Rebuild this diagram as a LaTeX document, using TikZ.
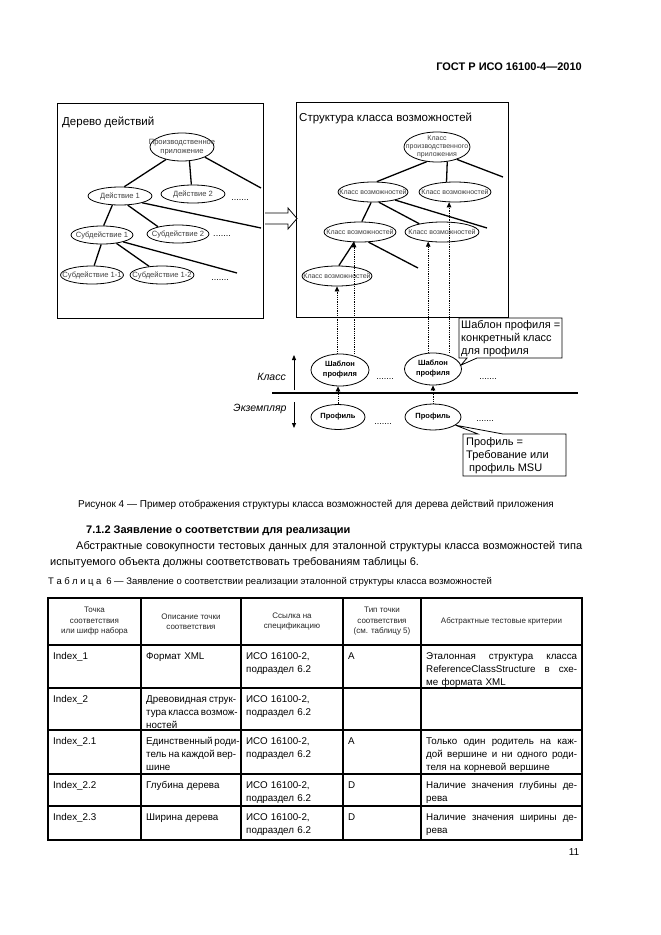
\documentclass[tikz,border=0pt]{standalone}
\usepackage{fontspec}
\setmainfont{Liberation Sans}
\usetikzlibrary{shapes.geometric, arrows.meta, positioning, calc}
\newcommand{\fsz}[2]{\fontsize{#1pt}{#2pt}\selectfont}
\newcommand{\jl}[2]{\makebox[#1pt][s]{\spaceskip=0pt\xspaceskip=0pt #2}}

\begin{document}
\begin{tikzpicture}[x=1pt, y=-1pt,
    treenode/.style={ellipse, draw, line width=0.8pt, inner xsep=-14pt, inner ysep=-4pt, align=center, text=black!75, font=\fsz{7.6}{8.6}},
    clsnode/.style={treenode, font=\fsz{7}{8}},
    profnode/.style={treenode, text=black, font=\bfseries\fsz{7.5}{10}},
    branch/.style={line width=1.3pt},
    dotlink/.style={densely dotted, line width=0.8pt, -{Triangle[length=5pt, width=4.5pt]}},
    levelarrow/.style={line width=0.8pt, -{Triangle[length=5pt, width=4pt]}},
    dotrow/.style={inner sep=0pt, font=\fsz{9}{9}},
    boxframe/.style={line width=0.8pt},
    boxtitle/.style={anchor=west, inner sep=0pt, font=\fsz{11.5}{13}},
    levellabel/.style={inner sep=0pt, font=\itshape\fsz{10.5}{12}},
    notetext/.style={anchor=north west, inner sep=0pt, align=left, font=\fsz{11}{13}},
    notebox/.style={draw, fill=white, line width=0.8pt},
    cell/.style={anchor=base west, inner sep=0pt, text width=160pt, align=left, font=\fsz{9.8}{13}},
    headcell/.style={inner sep=0pt, align=center, text=black!85, font=\fsz{8}{10.5}},
    tabrule/.style={line width=1.1pt}]
    \useasboundingbox[fill=white] (0,0) rectangle (661,935);

    \node[anchor=east, inner sep=0pt, font=\bfseries\fsz{11}{13}] (docid) at (582,67) {ГОСТ Р ИСО 16100-4—2010};

    % action tree
    \draw[boxframe] (57,103) rectangle (263,318);
    \node[boxtitle] (treetitle) at (62,122) {Дерево действий};
    \node[treenode, minimum width=64, minimum height=28] (app) at (182,147) {Производственное\\приложение};
    \node[treenode, minimum width=64, minimum height=18] (act1) at (120,196) {Действие 1};
    \node[treenode, minimum width=64, minimum height=18] (act2) at (193,194) {Действие 2};
    \node[treenode, minimum width=62, minimum height=18] (sub1) at (102,235) {Субдействие 1};
    \node[treenode, minimum width=62, minimum height=18] (sub2) at (178,234) {Субдействие 2};
    \node[treenode, minimum width=63, minimum height=18] (sub11) at (92,275) {Субдействие 1-1};
    \node[treenode, minimum width=64, minimum height=18] (sub12) at (162,275) {Субдействие 1-2};
    \node[dotrow] (actdots) at (240,200) {.......};
    \node[dotrow] (subdots) at (222,236) {.......};
    \node[dotrow] (sub1dots) at (220,280) {.......};
    \coordinate (appmore) at (261,188);
    \coordinate (act1more) at (261,228);
    \coordinate (sub1more) at (237,273);
    \draw[branch] (app.218) -- (act1.65);
    \draw[branch] (app.-62) -- (act2.100);
    \draw[branch] (app.-24) -- (appmore);
    \draw[branch] (act1.-130) -- (sub1.80);
    \draw[branch] (act1.-50) -- (sub2.160);
    \draw[branch] (act1.-17) -- (act1more);
    \draw[branch] (sub1.-95) -- (sub11.77);
    \draw[branch] (sub1.-30) -- (sub12.146);
    \draw[branch] (sub1.-18) -- (sub1more);

    \draw[line width=0.8pt, fill=white] (265,213) -- (288,213) -- (288,208) -- (297,218.5) -- (288,229) -- (288,224) -- (265,224);

    % class structure
    \draw[boxframe] (296,102) rectangle (508,317);
    \node[boxtitle] (clstitle) at (299,118) {Структура класса возможностей};
    \node[clsnode, minimum width=66, minimum height=30] (appcls) at (437,147) {Класс\\производственного\\приложения};
    \node[clsnode, minimum width=70, minimum height=20] (cls1) at (373,192) {Класс возможностей};
    \node[clsnode, minimum width=72, minimum height=20] (cls2) at (455,192) {Класс возможностей};
    \node[clsnode, minimum width=72, minimum height=20] (cls3) at (360,232) {Класс возможностей};
    \node[clsnode, minimum width=74, minimum height=20] (cls4) at (442,232) {Класс возможностей};
    \node[clsnode, minimum width=70, minimum height=20] (cls5) at (337,276) {Класс возможностей};
    \coordinate (appclsmore) at (503,177);
    \coordinate (cls1more) at (487,228);
    \coordinate (cls3more) at (418,268);
    \draw[branch] (appcls.235) -- (cls1.70);
    \draw[branch] (appcls.-55) -- (cls2.130);
    \draw[branch] (appcls.-32) -- (appclsmore);
    \draw[branch] (cls1.-100) -- (cls3.80);
    \draw[branch] (cls1.-60) -- (cls4.160);
    \draw[branch] (cls1.-20) -- (cls1more);
    \draw[branch] (cls3.-120) -- (cls5.80);
    \draw[branch] (cls3.-50) -- (cls3more);

    % templates and profiles
    \node[profnode, minimum width=58, minimum height=32] (tmpl1) at (340,370) {Шаблон\\профиля};
    \node[profnode, minimum width=57, minimum height=32] (tmpl2) at (433,369) {Шаблон\\профиля};
    \node[profnode, minimum width=54, minimum height=25] (prof1) at (338,417) {Профиль};
    \node[profnode, minimum width=56, minimum height=26] (prof2) at (433,417) {Профиль};
    \node[dotrow] (tmpldots1) at (385,379) {.......};
    \node[dotrow] (tmpldots2) at (488,379) {.......};
    \node[dotrow] (profdots1) at (383,424) {.......};
    \node[dotrow] (profdots2) at (485,421) {.......};
    \draw[dotlink] (tmpl1.north -| cls5.south) -- (cls5.south);
    \draw[dotlink] (tmpl1.north -| cls3.-120) -- (cls3.-120);
    \draw[dotlink] (tmpl2.north -| cls4.-145) -- (cls4.-145);
    \draw[dotlink] (tmpl2.north -| cls2.-120) -- (cls2.-120);
    \draw[dotlink] (prof1.north) -- (prof1.north |- tmpl1.south);
    \draw[dotlink] (prof2.north) -- (prof2.north |- tmpl2.south);

    \coordinate (divleft) at (272,393);
    \coordinate (divright) at (578,393);
    \draw[line width=1.3pt] (divleft) -- (divright);
    \coordinate (classtop) at (294,355);
    \coordinate (classbot) at (294,390);
    \coordinate (insttop) at (294,402);
    \coordinate (instbot) at (294,428);
    \draw[levelarrow] (classbot) -- (classtop);
    \draw[levelarrow] (insttop) -- (instbot);
    \node[levellabel, anchor=east] (classlbl) at (286,377) {Класс};
    \node[levellabel] (instlbl) at (260,409) {Экземпляр};

    \draw[notebox] (459,318) -- (562,318) -- (562,358) -- (477,358) -- (tmpl2.8) -- (467,358) -- (459,358) -- cycle;
    \node[notetext] (tmplnote) at (461,320) {Шаблон профиля =\\конкретный класс\\для профиля};
    \draw[notebox] (463,434) -- (478,434) -- (prof2.-20) -- (503,434) -- (566,434) -- (566,476) -- (463,476) -- cycle;
    \node[notetext] (profnote) at (466,437) {Профиль =\\Требование или\\\hspace{3pt}профиль MSU};

    % text
    \node[inner sep=0pt, font=\fsz{10}{12}] (figcap) at (316,505) {Рисунок 4 — Пример отображения структуры класса возможностей для дерева действий приложения};
    \node[anchor=west, inner sep=0pt, font=\bfseries\fsz{11}{13}] (secthead) at (86,531) {7.1.2 Заявление о соответствии для реализации};
    \node[anchor=west, inner sep=0pt, font=\fsz{11}{13}] (para1) at (76,547) {\jl{506}{Абстрактные совокупности тестовых данных для эталонной структуры класса возможностей типа}};
    \node[anchor=west, inner sep=0pt, font=\fsz{11}{13}] (para2) at (50,563) {испытуемого объекта должны соответствовать требованиям таблицы 6.};
    \node[anchor=west, inner sep=0pt, font=\fsz{9.5}{11}] (tabcap) at (48,582) {Т\hspace{2.5pt}а\hspace{2.5pt}б\hspace{2.5pt}л\hspace{2.5pt}и\hspace{2.5pt}ц\hspace{2.5pt}а\hspace{5pt}6 — Заявление о соответствии реализации эталонной структуры класса возможностей};

    % table
    \draw[tabrule] (48,598) rectangle (582,840);
    \foreach \x in {141,241,343,421} \draw[tabrule] (\x,598) -- (\x,840);
    \foreach \y in {688,730,774,806} \draw[tabrule] (48,\y) -- (582,\y);
    \draw[line width=1.8pt] (48,645) -- (582,645);

    \node[headcell] (h1) at (94.5,621.5) {Точка\\соответствия\\или шифр набора};
    \node[headcell] (h2) at (191,621.5) {Описание точки\\соответствия};
    \node[headcell] (h3) at (292,621.5) {Ссылка на\\спецификацию};
    \node[headcell] (h4) at (382,621.5) {Тип точки\\соответствия\\(см. таблицу 5)};
    \node[headcell] (h5) at (501.5,621.5) {Абстрактные тестовые критерии};

    \node[cell] (a1) at (53,659) {Index\_1};
    \node[cell] (b1) at (146,659) {Формат XML};
    \node[cell] (c1) at (246,659) {ИСО 16100-2,\\подраздел 6.2};
    \node[cell] (d1) at (348,659) {А};
    \node[cell] (e1) at (426,659) {\jl{151}{Эталонная структура класса}\\\jl{151}{ReferenceClassStructure в схе-}\\ме формата XML};

    \node[cell] (a2) at (53,702) {Index\_2};
    \node[cell] (b2) at (146,702) {\jl{90}{Древовидная струк-}\\\jl{90}{тура класса возмож-}\\ностей};
    \node[cell] (c2) at (246,702) {ИСО 16100-2,\\подраздел 6.2};

    \node[cell] (a3) at (53,744) {Index\_2.1};
    \node[cell] (b3) at (146,744) {\jl{90}{Единственный роди-}\\\jl{90}{тель на каждой вер-}\\шине};
    \node[cell] (c3) at (246,744) {ИСО 16100-2,\\подраздел 6.2};
    \node[cell] (d3) at (348,744) {А};
    \node[cell] (e3) at (426,744) {\jl{151}{Только один родитель на каж-}\\\jl{151}{дой вершине и ни одного роди-}\\теля на корневой вершине};

    \node[cell] (a4) at (53,788) {Index\_2.2};
    \node[cell] (b4) at (146,788) {Глубина дерева};
    \node[cell] (c4) at (246,788) {ИСО 16100-2,\\подраздел 6.2};
    \node[cell] (d4) at (348,788) {D};
    \node[cell] (e4) at (426,788) {\jl{151}{Наличие значения глубины де-}\\рева};

    \node[cell] (a5) at (53,820) {Index\_2.3};
    \node[cell] (b5) at (146,820) {Ширина дерева};
    \node[cell] (c5) at (246,820) {ИСО 16100-2,\\подраздел 6.2};
    \node[cell] (d5) at (348,820) {D};
    \node[cell] (e5) at (426,820) {\jl{151}{Наличие значения ширины де-}\\рева};

    \node[inner sep=0pt, font=\fsz{10}{12}] (pageno) at (574,852) {11};
\end{tikzpicture}
\end{document}
